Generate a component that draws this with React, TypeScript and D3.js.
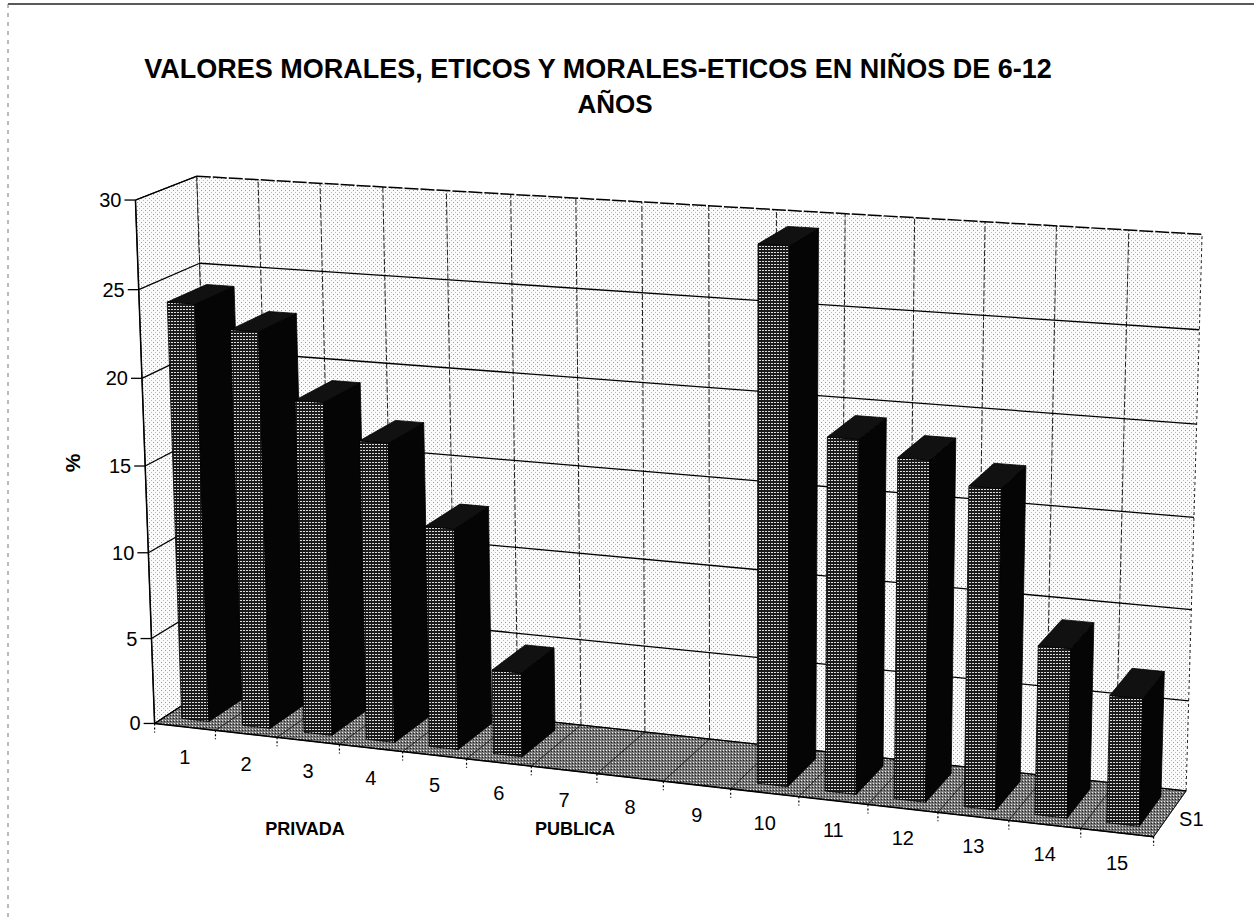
import * as d3 from 'd3'
import { useMemo } from 'react'

// data
const categories = ['1', '2', '3', '4', '5', '6', '7', '8', '9', '10', '11', '12', '13', '14', '15']
const values = [24.1, 22.8, 19.1, 17.1, 12.6, 4.8, 0, 0, 0, 29.4, 19.4, 18.6, 17.4, 9.2, 6.9]
const yTicks = [0, 5, 10, 15, 20, 25, 30]
const titleLines = ['VALORES MORALES, ETICOS Y MORALES-ETICOS EN NIÑOS DE 6-12', 'AÑOS']
const groupLabels = ['PRIVADA', 'PUBLICA']
const seriesName = 'S1'

// box corners measured on the picture: unit cube (x, depth, z) -> pixel
const calib3d = [
    [0, 0, 0], [0, 0, 1], [0, 1, 1], [1, 1, 1], [1, 0, 0], [1, 1, 0], [0, 1, 0],
    [0, 0, 0.5], [0, 0, 1 / 6], [0, 0, 5 / 6], [0, 0, 1 / 3], [0, 0, 2 / 3],
    [7 / 15, 0, 0], [10 / 15, 0, 0], [8 / 15, 1, 1], [8 / 15, 1, 0], [1, 1, 2 / 3], [1, 1, 5 / 6],
]
const calib2d = [
    [157, 722], [135, 199], [199, 177], [1202, 233], [1153, 837], [1188, 788], [211, 687],
    [145, 466], [153, 639], [138, 289], [147, 553], [142, 378],
    [597, 775], [798, 798], [708, 205], [709, 737], [1197, 427], [1199, 331],
]

const FONT = 'Liberation Sans, Arial, sans-serif'

/* least squares DLT, p34 = 1 */
const fitCamera = (p3: number[][], p2: number[][]): number[] => {
    const n = 11
    const M = Array.from({ length: n }, () => new Array(n).fill(0))
    const r = new Array(n).fill(0)
    p3.forEach(([X, Y, Z], k) => {
        const [u, v] = p2[k]
        const rows: [number[], number][] = [
            [[X, Y, Z, 1, 0, 0, 0, 0, -u * X, -u * Y, -u * Z], u],
            [[0, 0, 0, 0, X, Y, Z, 1, -v * X, -v * Y, -v * Z], v],
        ]
        for (const [a, b] of rows) {
            for (let i = 0; i < n; i++) {
                r[i] += a[i] * b
                for (let j = 0; j < n; j++) M[i][j] += a[i] * a[j]
            }
        }
    })
    // gaussian elimination
    for (let c = 0; c < n; c++) {
        let piv = c
        for (let i = c + 1; i < n; i++) if (Math.abs(M[i][c]) > Math.abs(M[piv][c])) piv = i
        ;[M[c], M[piv]] = [M[piv], M[c]]
        ;[r[c], r[piv]] = [r[piv], r[c]]
        for (let i = c + 1; i < n; i++) {
            const f = M[i][c] / M[c][c]
            for (let j = c; j < n; j++) M[i][j] -= f * M[c][j]
            r[i] -= f * r[c]
        }
    }
    const p = new Array(n).fill(0)
    for (let i = n - 1; i >= 0; i--) {
        let s = r[i]
        for (let j = i + 1; j < n; j++) s -= M[i][j] * p[j]
        p[i] = s / M[i][i]
    }
    return p
}

export default function App() {
    const cam = useMemo(() => fitCamera(calib3d, calib2d), [])

    const proj = (X: number, Y: number, Z: number): [number, number] => {
        const w = cam[8] * X + cam[9] * Y + cam[10] * Z + 1
        return [
            (cam[0] * X + cam[1] * Y + cam[2] * Z + cam[3]) / w,
            (cam[4] * X + cam[5] * Y + cam[6] * Z + cam[7]) / w,
        ]
    }
    const poly = (pts: number[][]) => pts.map((p) => proj(p[0], p[1], p[2]).join(',')).join(' ')
    const seg = (a: number[], b: number[]) => {
        const [x1, y1] = proj(a[0], a[1], a[2])
        const [x2, y2] = proj(b[0], b[1], b[2])
        return { x1, y1, x2, y2 }
    }

    const xBand = d3.scaleBand().domain(categories).range([0, 1]).paddingInner(0.55).paddingOuter(0.275)
    const xEdge = d3.scaleLinear().domain([0, categories.length]).range([0, 1])
    const zScale = d3.scaleLinear().domain([0, 30]).range([0, 1])
    const D0 = 0.175, D1 = 0.825

    const bars = categories.map((c, i) => {
        const v = values[i]
        if (!v) return null
        const x0 = xBand(c) as number
        const x1 = x0 + xBand.bandwidth()
        const h = zScale(v)
        return (
            <g key={c}>
                <polygon points={poly([[x0, D0, 0], [x1, D0, 0], [x1, D0, h], [x0, D0, h]])} fill="url(#front)" stroke="#000" strokeWidth={0.8} />
                <polygon points={poly([[x1, D0, 0], [x1, D1, 0], [x1, D1, h], [x1, D0, h]])} fill="#050505" stroke="#000" strokeWidth={0.8} />
                <polygon points={poly([[x0, D0, h], [x1, D0, h], [x1, D1, h], [x0, D1, h]])} fill="#111" stroke="#000" strokeWidth={0.8} />
            </g>
        )
    })

    return (
        <svg width={1254} height={921} style={{ position: 'absolute', left: 0, top: 0, background: '#fff' }}>
            <defs>
                <pattern id="wall" width={4} height={4} patternUnits="userSpaceOnUse">
                    <rect width={4} height={4} fill="#fafafa" />
                    <rect x={1} y={2} width={1} height={1} fill="#999" />
                    <rect x={3} y={0} width={1} height={1} fill="#bbb" />
                </pattern>
                <pattern id="floor" width={3} height={3} patternUnits="userSpaceOnUse">
                    <rect width={3} height={3} fill="#777" />
                    <rect x={0} y={0} width={1} height={1} fill="#eee" />
                    <rect x={2} y={1} width={1} height={1} fill="#222" />
                </pattern>
                <pattern id="front" width={3} height={3} patternUnits="userSpaceOnUse">
                    <rect width={3} height={3} fill="#1a1a1a" />
                    <rect x={0} y={0} width={2} height={1} fill="#ddd" />
                </pattern>
            </defs>

            {/* frame */}
            <line x1={8} y1={4} x2={1254} y2={4} stroke="#222" strokeWidth={1.5} />
            <line x1={8} y1={4} x2={8} y2={921} stroke="#777" strokeWidth={1} strokeDasharray="4,5" />

            {/* title */}
            <text x={598} y={78} textAnchor="middle" fontFamily={FONT} fontWeight="bold" fontSize={27}>{titleLines[0]}</text>
            <text x={615} y={113} textAnchor="middle" fontFamily={FONT} fontWeight="bold" fontSize={26}>{titleLines[1]}</text>

            {/* walls and floor */}
            <polygon points={poly([[0, 0, 0], [0, 1, 0], [0, 1, 1], [0, 0, 1]])} fill="url(#wall)" stroke="#000" strokeWidth={1} />
            <polygon points={poly([[0, 1, 0], [1, 1, 0], [1, 1, 1], [0, 1, 1]])} fill="url(#wall)" stroke="none" />
            <polygon points={poly([[0, 0, 0], [1, 0, 0], [1, 1, 0], [0, 1, 0]])} fill="url(#floor)" stroke="#000" strokeWidth={0.8} />

            {/* vertical gridlines back wall, depth lines floor */}
            {d3.range(categories.length + 1).map((i) => (
                <g key={'vg' + i}>
                    <line {...seg([xEdge(i), 1, 0], [xEdge(i), 1, 1])} stroke="#222" strokeWidth={1} strokeDasharray={i === categories.length ? '3,3' : '6,2'} />
                    <line {...seg([xEdge(i), 0, 0], [xEdge(i), 1, 0])} stroke="#111" strokeWidth={0.8} />
                </g>
            ))}
            {/* horizontal gridlines */}
            {yTicks.map((t) => (
                <g key={'hg' + t}>
                    <line {...seg([0, 0, zScale(t)], [0, 1, zScale(t)])} stroke="#000" strokeWidth={1.3} />
                    <line {...seg([0, 1, zScale(t)], [1, 1, zScale(t)])} stroke="#000" strokeWidth={t === 30 ? 1.5 : 1.3} strokeDasharray={t === 30 ? '14,2' : undefined} />
                </g>
            ))}

            {/* axes */}
            <line {...seg([0, 0, 0], [0, 0, 1])} stroke="#000" strokeWidth={1.5} />
            <line {...seg([0, 0, 0], [1, 0, 0])} stroke="#000" strokeWidth={1.5} />

            {bars}

            {/* value axis ticks */}
            {yTicks.map((t) => {
                const [x, y] = proj(0, 0, zScale(t))
                return (
                    <g key={'yt' + t}>
                        <line x1={x - 11} y1={y} x2={x} y2={y} stroke="#000" strokeWidth={1.3} />
                        <text x={x - 14} y={y + 7} textAnchor="end" fontFamily={FONT} fontSize={20}>{t}</text>
                    </g>
                )
            })}
            {/* category ticks and labels */}
            {d3.range(categories.length + 1).map((i) => {
                const [x, y] = proj(xEdge(i), 0, 0)
                return <line key={'xt' + i} x1={x} y1={y} x2={x} y2={y + 9} stroke="#000" strokeWidth={1.2} strokeDasharray="2,2" />
            })}
            {categories.map((c, i) => {
                const [x, y] = proj(xEdge(i + 0.5), 0, 0)
                return <text key={'xl' + c} x={x} y={y + 37} textAnchor="middle" fontFamily={FONT} fontSize={20}>{c}</text>
            })}

            {/* axis titles */}
            <text transform="translate(80,463) rotate(-90)" textAnchor="middle" fontFamily={FONT} fontWeight="bold" fontSize={21}>%</text>
            <text x={305} y={835} textAnchor="middle" fontFamily={FONT} fontWeight="bold" fontSize={18}>{groupLabels[0]}</text>
            <text x={575} y={835} textAnchor="middle" fontFamily={FONT} fontWeight="bold" fontSize={18}>{groupLabels[1]}</text>
            {(() => {
                const [x, y] = proj(1, 0.5, 0)
                return <text x={x + 9} y={y + 12} fontFamily={FONT} fontSize={20}>{seriesName}</text>
            })()}
        </svg>
    )
}
